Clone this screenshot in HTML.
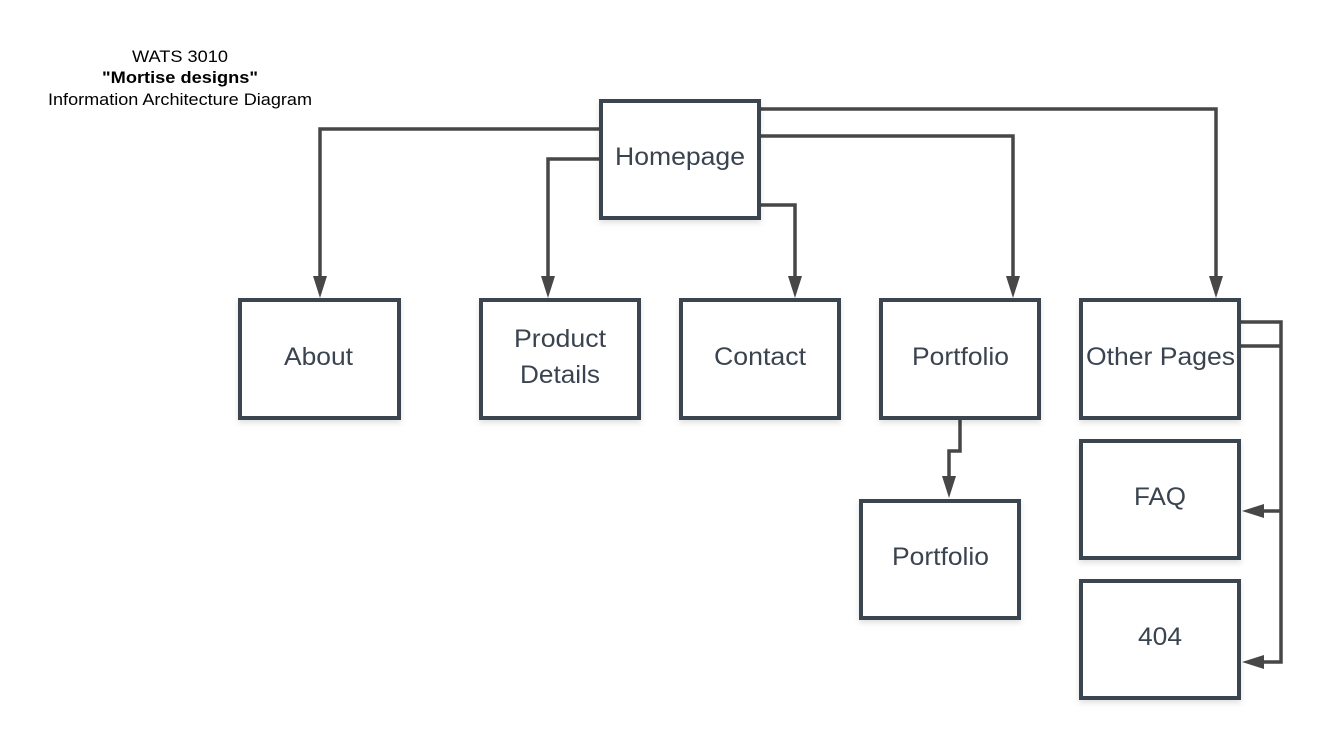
<!DOCTYPE html>
<html><head><meta charset="utf-8"><style>
html,body{margin:0;padding:0;background:#fff;}
svg{display:block;}
text{font-family:"Liberation Sans",sans-serif;}
</style></head><body>
<svg width="1322" height="740" viewBox="0 0 1322 740" xmlns="http://www.w3.org/2000/svg">
<defs>
<filter id="sh" x="-10%" y="-10%" width="130%" height="130%"><feDropShadow dx="0" dy="3" stdDeviation="3" flood-color="#000" flood-opacity="0.12"/></filter>
</defs>
<g fill="#000" font-size="17" lengthAdjust="spacingAndGlyphs">
<text x="132" y="62" textLength="96" lengthAdjust="spacingAndGlyphs">WATS 3010</text>
<text x="102" y="83" font-weight="bold" textLength="156" lengthAdjust="spacingAndGlyphs">"Mortise designs"</text>
<text x="48" y="105" textLength="264" lengthAdjust="spacingAndGlyphs">Information Architecture Diagram</text>
</g>
<g fill="none" stroke="#474747" stroke-width="3.5">
<polyline points="599,129 320,129 320,280"/>
<polyline points="599,159 548,159 548,280"/>
<polyline points="761,205 795,205 795,280"/>
<polyline points="761,136 1013,136 1013,280"/>
<polyline points="761,109 1216,109 1216,280"/>
<polyline points="960,420 960,451 949,451 949,480"/>
<polyline points="1241,322 1281,322 1281,662 1262,662"/>
<polyline points="1241,346 1281,346"/>
<polyline points="1281,511 1262,511"/>
</g>
<g fill="#474747">
<polygon points="313,276 327,276 320,298"/>
<polygon points="541,276 555,276 548,298"/>
<polygon points="788,276 802,276 795,298"/>
<polygon points="1006,276 1020,276 1013,298"/>
<polygon points="1209,276 1223,276 1216,298"/>
<polygon points="942,476 956,476 949,498"/>
<polygon points="1264,504 1264,518 1242,511"/>
<polygon points="1264,655 1264,669 1242,662"/>
</g>
<g fill="#fff" stroke="#3a4450" stroke-width="4" filter="url(#sh)">
<rect x="601" y="101" width="158" height="117"/>
<rect x="240" y="300" width="159" height="118"/>
<rect x="481" y="300" width="158" height="118"/>
<rect x="681" y="300" width="158" height="118"/>
<rect x="881" y="300" width="158" height="118"/>
<rect x="1081" y="300" width="158" height="118"/>
<rect x="1081" y="441" width="158" height="117"/>
<rect x="1081" y="581" width="158" height="117"/>
<rect x="861" y="501" width="158" height="117"/>
</g>
<g fill="#3a4450" font-size="25">
<text x="615" y="165" textLength="130" lengthAdjust="spacingAndGlyphs">Homepage</text>
<text x="284" y="365" textLength="69" lengthAdjust="spacingAndGlyphs">About</text>
<text x="514" y="347" textLength="92" lengthAdjust="spacingAndGlyphs">Product</text>
<text x="520" y="383" textLength="80" lengthAdjust="spacingAndGlyphs">Details</text>
<text x="714" y="365" textLength="92" lengthAdjust="spacingAndGlyphs">Contact</text>
<text x="912" y="365" textLength="97" lengthAdjust="spacingAndGlyphs">Portfolio</text>
<text x="1086" y="365" textLength="149" lengthAdjust="spacingAndGlyphs">Other Pages</text>
<text x="1134" y="505" textLength="52" lengthAdjust="spacingAndGlyphs">FAQ</text>
<text x="1138" y="645" textLength="44" lengthAdjust="spacingAndGlyphs">404</text>
<text x="892" y="565" textLength="97" lengthAdjust="spacingAndGlyphs">Portfolio</text>
</g>
</svg>
</body></html>
